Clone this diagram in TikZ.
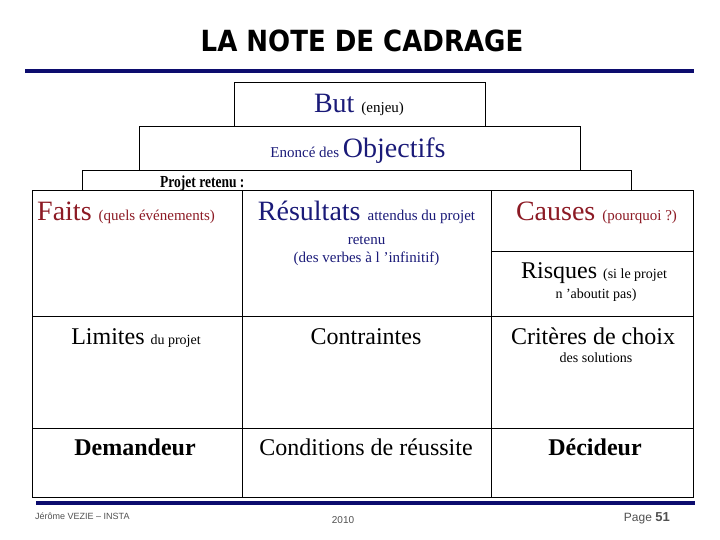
\documentclass[tikz,border=0pt]{standalone}
\usepackage{fontspec}
\setmainfont{Liberation Serif}
\newfontfamily\titlefont{DejaVu Sans}
\newfontfamily\footfont{Liberation Sans}
\definecolor{navytxt}{RGB}{26,26,120}
\definecolor{redtxt}{RGB}{140,26,36}
\definecolor{barblue}{RGB}{12,12,110}
\definecolor{footgray}{RGB}{80,80,80}
\tikzset{
  cell/.style={draw=black, line width=1.1pt, rectangle, inner sep=0pt, anchor=north west},
  bar/.style={draw=barblue, line width=4pt},
  txt/.style={inner sep=0pt, anchor=base},
}
\newcommand{\txbig}[1]{{\fontsize{28}{30}\selectfont #1}}
\newcommand{\txmed}[1]{{\fontsize{24}{26}\selectfont #1}}
\newcommand{\txsml}[1]{{\fontsize{15}{17}\selectfont #1}}
\newcommand{\txsmx}[1]{{\fontsize{14}{16}\selectfont #1}}
\begin{document}
\begin{tikzpicture}[x=1pt,y=-1pt]
\useasboundingbox (0,0) rectangle (720,540);
% title
\node[txt] (title) at (362,52) {\scalebox{1}[1.12]{\titlefont\bfseries\fontsize{26}{28}\selectfont LA NOTE DE CADRAGE}};
\coordinate (b1l) at (25,71); \coordinate (b1r) at (694,71);
\draw[bar] (b1l) -- (b1r);
% pyramid boxes
\node[cell, minimum width=251pt, minimum height=44pt] (butbox) at (234,82) {};
\node[cell, minimum width=441pt, minimum height=44pt] (objbox) at (139,126) {};
\node[cell, minimum width=549pt, minimum height=20pt] (projbox) at (82,170) {};
% grid
\node[cell, minimum width=210pt, minimum height=126pt] (c11) at (32,190) {};
\node[cell, minimum width=249pt, minimum height=126pt] (c12) at (242,190) {};
\node[cell, minimum width=202pt, minimum height=61pt] (c13a) at (491,190) {};
\node[cell, minimum width=202pt, minimum height=65pt] (c13b) at (491,251) {};
\node[cell, minimum width=210pt, minimum height=112pt] (c21) at (32,316) {};
\node[cell, minimum width=249pt, minimum height=112pt] (c22) at (242,316) {};
\node[cell, minimum width=202pt, minimum height=112pt] (c23) at (491,316) {};
\node[cell, minimum width=210pt, minimum height=69pt] (c31) at (32,428) {};
\node[cell, minimum width=249pt, minimum height=69pt] (c32) at (242,428) {};
\node[cell, minimum width=202pt, minimum height=69pt] (c33) at (491,428) {};
\coordinate (b2l) at (36,503); \coordinate (b2r) at (695,503);
\draw[bar] (b2l) -- (b2r);
% texts
\node[txt, text=navytxt] (but) at (359,113) {\txbig{But }\textcolor{black}{\txsml{(enjeu)}}};
\node[txt, text=navytxt] (obj) at (358,158) {\txsml{Enoncé des }\txbig{Objectifs}};
\node[txt, anchor=base west] (proj) at (160,188) {\scalebox{1}[1.25]{\fontsize{13.5}{15}\selectfont\bfseries Projet retenu :}};
\node[txt, anchor=base west, text=redtxt] (faits) at (37,221) {\txbig{Faits }\txsml{(quels événements)}};
\node[txt, text=navytxt] (res) at (366.5,221) {\txbig{Résultats }\txsml{attendus du projet}};
\node[txt, text=navytxt] (res2) at (366.5,244) {\txsml{retenu}};
\node[txt, text=navytxt] (res3) at (366.5,262) {\txsml{(des verbes à l ’infinitif)}};
\node[txt, text=redtxt] (causes) at (596.5,221) {\txbig{Causes }\txsml{(pourquoi ?)}};
\node[txt] (risq) at (594,278) {\txmed{Risques }\txsmx{(si le projet}};
\node[txt] (risq2) at (596,298) {\txsmx{n ’aboutit pas)}};
\node[txt] (lim) at (136,344) {\txmed{Limites }\txsmx{du projet}};
\node[txt] (contr) at (366,344) {\txmed{Contraintes}};
\node[txt] (crit) at (593,344) {\txmed{Critères de choix}};
\node[txt] (crit2) at (596,362) {\txsmx{des solutions}};
\node[txt] (dem) at (135,455) {\txmed{\bfseries Demandeur}};
\node[txt] (cond) at (366,455) {\txmed{Conditions de réussite}};
\node[txt] (dec) at (595,455) {\txmed{\bfseries Décideur}};
% footer
\node[txt, anchor=base west, text=footgray] (auth) at (35,519) {\footfont\fontsize{9}{10}\selectfont Jérôme VEZIE – INSTA};
\node[txt, text=footgray] (year) at (343,523) {\footfont\fontsize{10}{11}\selectfont 2010};
\node[txt, anchor=base east, text=footgray] (page) at (670,521) {\footfont\fontsize{12}{13}\selectfont Page {\fontsize{13}{14}\selectfont\bfseries 51}};
\end{tikzpicture}
\end{document}
